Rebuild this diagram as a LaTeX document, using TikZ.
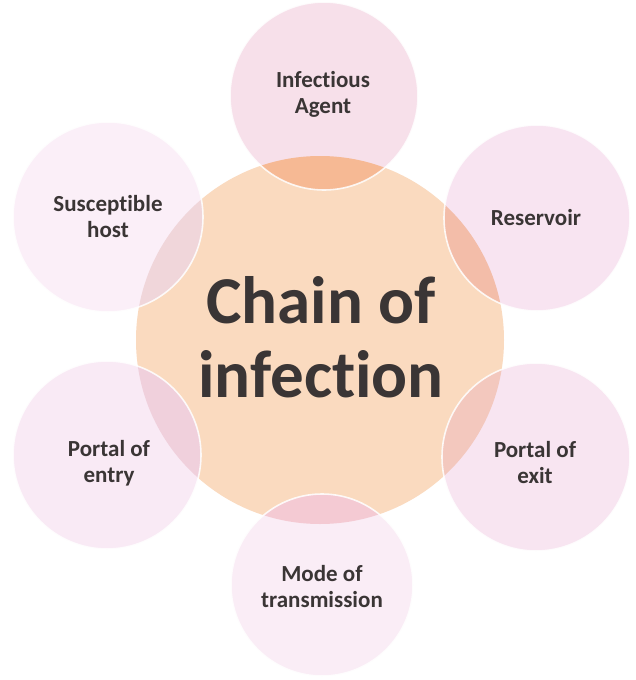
\documentclass[tikz,border=0pt]{standalone}
\usepackage{fontspec}
\setmainfont{Carlito}[Ligatures=NoCommon]
\definecolor{txt}{HTML}{3A3535}
\definecolor{corefill}{HTML}{FADABF}
\definecolor{iafill}{HTML}{F7E0EA}
\definecolor{resfill}{HTML}{F8E4F1}
\definecolor{shfill}{HTML}{FBEFF8}
\definecolor{penfill}{HTML}{F9EAF5}
\definecolor{pexfill}{HTML}{F8E5F1}
\definecolor{modefill}{HTML}{FAEDF6}
\definecolor{iaov}{HTML}{F6B994}
\definecolor{resov}{HTML}{F3BDA9}
\definecolor{shov}{HTML}{F0D6DA}
\definecolor{penov}{HTML}{F0D0DC}
\definecolor{pexov}{HTML}{F3C8BE}
\definecolor{modeov}{HTML}{F4CAD3}
\newcommand\outercirc[5]{%
  \fill[#4] (#1,#2) circle (#3pt);
  \begin{scope}
    \clip (320,340) circle (184pt);
    \fill[#5] (#1,#2) circle (#3pt);
  \end{scope}
  \draw[white, line width=1.6pt, opacity=0.85] (#1,#2) circle (#3pt);
}
\begin{document}
\begin{tikzpicture}[x=1pt,y=-1pt,
  lbl/.style={font=\fontsize{23}{26}\selectfont\bfseries, text=txt, align=center, anchor=base, inner sep=0pt},
  bigtxt/.style={font=\fontsize{67}{74}\selectfont\bfseries, text=txt, align=center, anchor=base, inner sep=0pt}]
\useasboundingbox (0,0) rectangle (635,680);
\fill[white] (0,0) rectangle (635,680);
% central circle
\fill[corefill] (320,340) circle (184pt);
% outer circles
\outercirc{324}{96}{94}{iafill}{iaov}
\outercirc{537}{218}{93}{resfill}{resov}
\outercirc{108}{217}{95}{shfill}{shov}
\outercirc{107}{455}{94}{penfill}{penov}
\outercirc{536}{457}{94}{pexfill}{pexov}
\outercirc{322}{585}{91}{modefill}{modeov}
% texts (base anchor = baseline of last line)
\node[bigtxt] (core) at (321,397) {Chain of\\infection};
\node[lbl] (ia) at (323,113) {Infectious\\Agent};
\node[lbl] (res) at (536,225) {Reservoir};
\node[lbl] (sh) at (108,237) {Susceptible\\host};
\node[lbl] (pen) at (109,482) {Portal of\\entry};
\node[lbl] (pex) at (535,483) {Portal of\\exit};
\node[lbl] (mode) at (322,607) {Mode of\\transmission};
\end{tikzpicture}
\end{document}
